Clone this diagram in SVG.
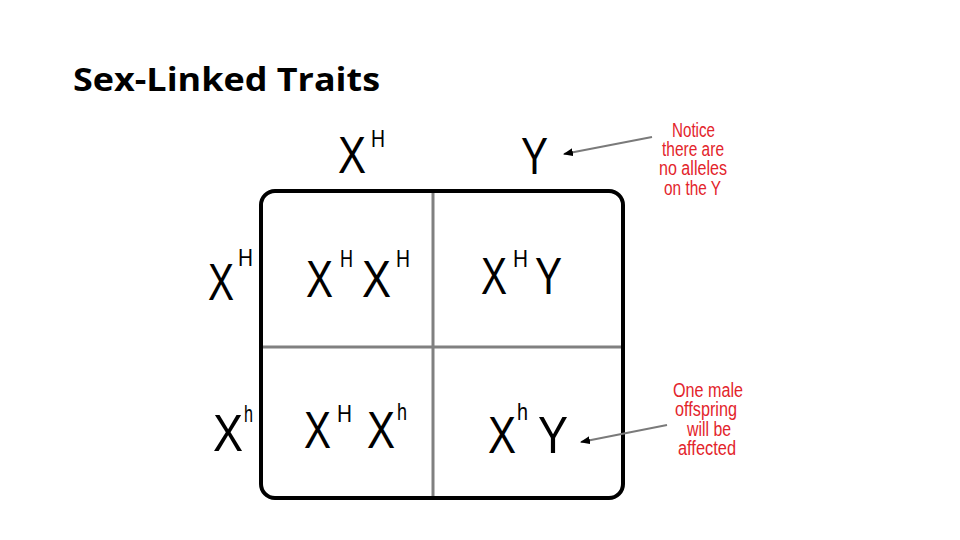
<svg xmlns="http://www.w3.org/2000/svg" width="960" height="540" viewBox="0 0 960 540">
<style>
.g{font-family:"Liberation Sans",Arial,sans-serif;fill:#000}
.big{font-size:52px}
.sup{font-size:24px}
.note{font-family:"Liberation Sans",Arial,sans-serif;font-size:20px;fill:#e3242b;text-anchor:start}
.title{font-family:"Open Sans","Liberation Sans",sans-serif;font-weight:bold;font-size:32px;fill:#000}
.div{stroke:#808080;stroke-width:3}
.arr{stroke:#7a7a7a;stroke-width:2;fill:none;marker-end:url(#ah)}
</style>
<defs>
<marker id="ah" markerWidth="10" markerHeight="8" refX="9" refY="4" orient="auto" markerUnits="userSpaceOnUse">
<path d="M0,0 L10,4 L0,8 Z" fill="#000"/>
</marker>
</defs>
<rect width="960" height="540" fill="#fff"/>
<text class="title" x="73" y="91" textLength="307" lengthAdjust="spacingAndGlyphs">Sex-Linked Traits</text>

<g id="square">
<rect x="261" y="191" width="362" height="307" rx="14" fill="none" stroke="#000" stroke-width="4"/>
<line class="div" x1="433" y1="193" x2="433" y2="496"/>
<line class="div" x1="263" y1="347" x2="621" y2="347"/>
</g>

<g id="parent-top-XH" class="g">
<text class="big" x="338" y="173" textLength="28" lengthAdjust="spacingAndGlyphs">X</text>
<text class="sup" x="371" y="147" textLength="14" lengthAdjust="spacingAndGlyphs">H</text>
</g>
<g id="parent-top-Y" class="g">
<text class="big" x="521" y="174" textLength="27" lengthAdjust="spacingAndGlyphs">Y</text>
</g>
<g id="parent-left-XH" class="g">
<text class="big" x="208" y="300" textLength="26" lengthAdjust="spacingAndGlyphs">X</text>
<text class="sup" x="238" y="266" textLength="15" lengthAdjust="spacingAndGlyphs">H</text>
</g>
<g id="parent-left-Xh" class="g">
<text class="big" x="213" y="451" textLength="30" lengthAdjust="spacingAndGlyphs">X</text>
<text class="sup" x="244" y="422" textLength="9" lengthAdjust="spacingAndGlyphs">h</text>
</g>

<g id="cell-XHXH" class="g">
<text class="big" x="306" y="297" textLength="27" lengthAdjust="spacingAndGlyphs">X</text>
<text class="sup" x="340" y="267" textLength="13" lengthAdjust="spacingAndGlyphs">H</text>
<text class="big" x="362" y="297" textLength="29" lengthAdjust="spacingAndGlyphs">X</text>
<text class="sup" x="396" y="267" textLength="14" lengthAdjust="spacingAndGlyphs">H</text>
</g>
<g id="cell-XHY" class="g">
<text class="big" x="481" y="294" textLength="26" lengthAdjust="spacingAndGlyphs">X</text>
<text class="sup" x="513" y="267" textLength="15" lengthAdjust="spacingAndGlyphs">H</text>
<text class="big" x="535" y="294" textLength="27" lengthAdjust="spacingAndGlyphs">Y</text>
</g>
<g id="cell-XHXh" class="g">
<text class="big" x="304" y="448" textLength="27" lengthAdjust="spacingAndGlyphs">X</text>
<text class="sup" x="337" y="422" textLength="15" lengthAdjust="spacingAndGlyphs">H</text>
<text class="big" x="367" y="448" textLength="28" lengthAdjust="spacingAndGlyphs">X</text>
<text class="sup" x="397" y="420" textLength="10" lengthAdjust="spacingAndGlyphs">h</text>
</g>
<g id="cell-XhY" class="g">
<text class="big" x="488" y="453" textLength="28" lengthAdjust="spacingAndGlyphs">X</text>
<text class="sup" x="517" y="420" textLength="11" lengthAdjust="spacingAndGlyphs">h</text>
<text class="big" x="538" y="453" textLength="30" lengthAdjust="spacingAndGlyphs">Y</text>
</g>

<g id="note-top">
<text class="note" x="672" y="137" textLength="43" lengthAdjust="spacingAndGlyphs">Notice</text>
<text class="note" x="662" y="156" textLength="62" lengthAdjust="spacingAndGlyphs">there are</text>
<text class="note" x="659" y="175" textLength="68" lengthAdjust="spacingAndGlyphs">no alleles</text>
<text class="note" x="664" y="195" textLength="57" lengthAdjust="spacingAndGlyphs">on the Y</text>
</g>
<g id="note-bottom">
<text class="note" x="673" y="397" textLength="70" lengthAdjust="spacingAndGlyphs">One male</text>
<text class="note" x="675" y="416" textLength="62" lengthAdjust="spacingAndGlyphs">offspring</text>
<text class="note" x="687" y="436" textLength="44" lengthAdjust="spacingAndGlyphs">will be</text>
<text class="note" x="678" y="455" textLength="58" lengthAdjust="spacingAndGlyphs">affected</text>
</g>

<g id="connectors">
<line class="arr" x1="652" y1="137" x2="564" y2="154"/>
<line class="arr" x1="667" y1="425" x2="581" y2="442"/>
</g>
</svg>
